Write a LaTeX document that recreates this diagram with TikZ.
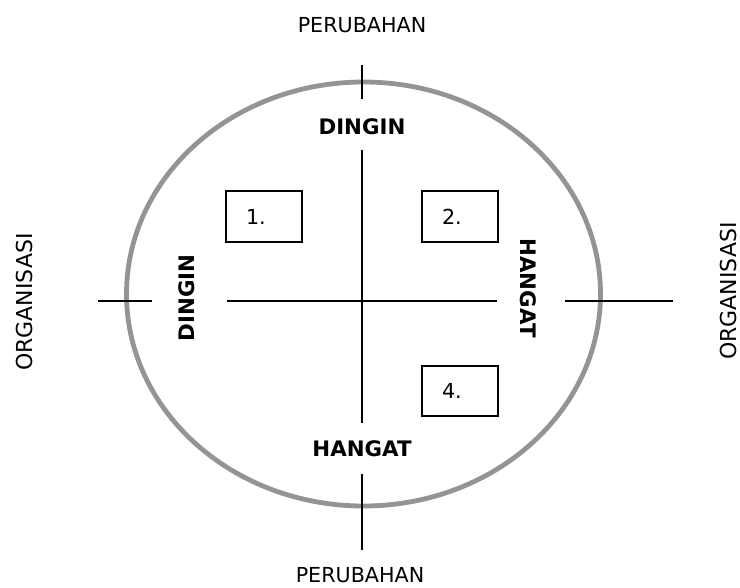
\documentclass[tikz,border=0pt]{standalone}
\usepackage{fontspec}
\setmainfont{DejaVu Sans}
\usetikzlibrary{positioning}

\begin{document}
\begin{tikzpicture}[x=0.75pt,y=-0.75pt,
  axis/.style={line width=1.6pt},
  rim/.style={line width=3.6pt,black!42},
  numbox/.style={draw,line width=1.6pt,inner xsep=15pt,text width=27pt,
    minimum height=38pt,align=left,font=\fontsize{15.5}{17}\selectfont},
  side/.style={font=\bfseries\fontsize{16}{18}\selectfont},
  outer/.style={font=\fontsize{15.5}{18}\selectfont}]
  \useasboundingbox (0,0) rectangle (740,587);
  % the circle
  \draw[rim] (363.5,294) ellipse [x radius=237, y radius=212];
  % labels outside
  \node[outer] (pt) at (362,25) {PERUBAHAN};
  \node[outer] (pb) at (360,575) {PERUBAHAN};
  \node[outer,rotate=90,font=\fontsize{16.5}{18}\selectfont] (ol) at (24,302) {ORGANISASI};
  \node[outer,rotate=90,font=\fontsize{16.5}{18}\selectfont] (or) at (728,291) {ORGANISASI};
  % labels inside
  \node[side] (dt) at (362,127) {DINGIN};
  \node[side] (hb) at (362,449) {HANGAT};
  \node[side,rotate=90] (dl) at (187,298) {DINGIN};
  \node[side,rotate=-90] (hr) at (528,288) {HANGAT};
  % the axes
  \coordinate (t1) at (362,65);  \coordinate (t2) at (362,99);
  \coordinate (v1) at (362,150); \coordinate (v2) at (362,423);
  \coordinate (b1) at (362,474); \coordinate (b2) at (362,550);
  \coordinate (l1) at (98,301);  \coordinate (l2) at (152,301);
  \coordinate (h1) at (227,301); \coordinate (h2) at (497,301);
  \coordinate (r1) at (565,301); \coordinate (r2) at (673,301);
  \draw[axis] (t1) -- (t2);
  \draw[axis] (v1) -- (v2);
  \draw[axis] (b1) -- (b2);
  \draw[axis] (l1) -- (l2);
  \draw[axis] (h1) -- (h2);
  \draw[axis] (r1) -- (r2);
  % numbered boxes
  \node[numbox] (q1) at (264,216.5) {1.};
  \node[numbox] (q2) at (460,216.5) {2.};
  \node[numbox] (q4) at (460,391) {4.};
\end{tikzpicture}
\end{document}
